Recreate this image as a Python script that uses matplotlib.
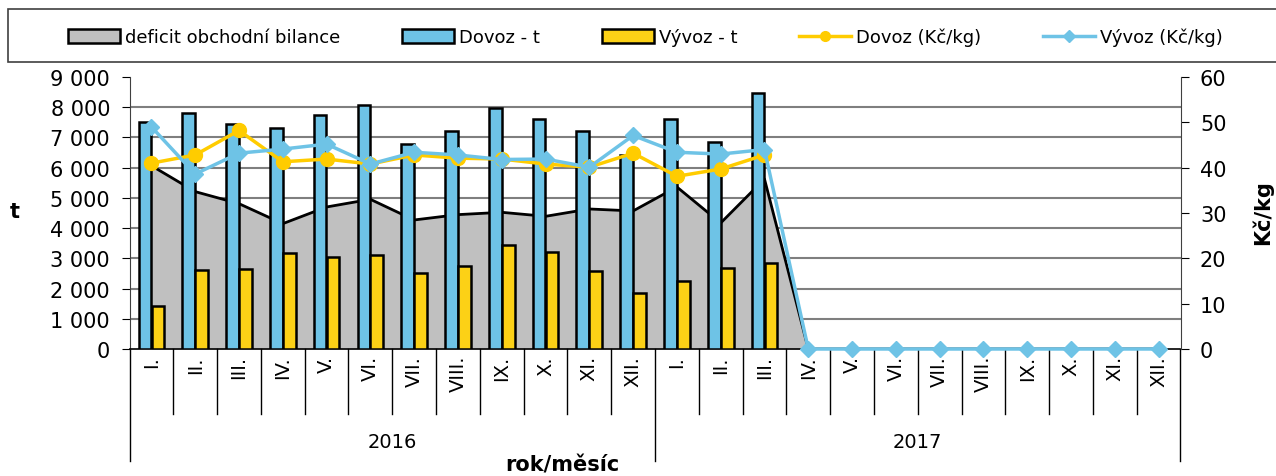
import numpy as np
import matplotlib
matplotlib.use("Agg")
import matplotlib.pyplot as plt
from matplotlib.patches import Patch, Rectangle
from matplotlib.lines import Line2D
import matplotlib.transforms as mtransforms

plt.rcParams['font.family'] = ['DejaVu Sans']

# data
months = ["I.", "II.", "III.", "IV.", "V.", "VI.", "VII.", "VIII.", "IX.", "X.", "XI.", "XII.",
          "I.", "II.", "III.", "IV.", "V.", "VI.", "VII.", "VIII.", "IX.", "X.", "XI.", "XII."]
years = ["2016", "2017"]
nan = np.nan
dovoz_t = [7500, 7810, 7445, 7323, 7743, 8063, 6773, 7203, 7975, 7600, 7203, 6410,
           7600, 6860, 8460, nan, nan, nan, nan, nan, nan, nan, nan, nan]
vyvoz_t = [1434, 2603, 2636, 3176, 3044, 3110, 2504, 2757, 3452, 3210, 2570, 1842,
           2239, 2691, 2835, nan, nan, nan, nan, nan, nan, nan, nan, nan]
deficit = [6066, 5207, 4809, 4147, 4699, 4953, 4269, 4446, 4523, 4390, 4633, 4568,
           5361, 4169, 5625, 0, 0, 0, 0, 0, 0, 0, 0, 0]
dovoz_kg = [41.0, 42.8, 48.2, 41.3, 41.9, 40.8, 42.8, 42.1, 41.9, 40.8, 40.1, 43.2,
            38.1, 39.7, 42.8, nan, nan, nan, nan, nan, nan, nan, nan, nan]
vyvoz_kg = [49.0, 38.6, 43.2, 44.1, 45.2, 40.8, 43.4, 42.8, 41.8, 41.9, 40.1, 47.1,
            43.4, 43.0, 44.0, 0, 0, 0, 0, 0, 0, 0, 0, 0]

c_grey = '#C0C0C0'
c_blue = '#6EC3E6'
c_yel = '#FCD116'

fig = plt.figure(figsize=(12.76, 4.77), dpi=100)
ax = fig.add_axes([129.5 / 1276, 1 - 350 / 477, 1051 / 1276, 272 / 477])
ax2 = ax.twinx()

x = np.arange(len(months))
ax.fill_between(x, deficit, 0, color=c_grey, zorder=1, linewidth=0)
ax.plot(x, deficit, color='black', linewidth=2, zorder=2)
ax.bar(x - 0.148, dovoz_t, width=0.29, color=c_blue, edgecolor='black', linewidth=1.8, zorder=3)
ax.bar(x + 0.148, vyvoz_t, width=0.29, color=c_yel, edgecolor='black', linewidth=1.8, zorder=3)

ax.set_xlim(-0.5, 23.5)
ax.set_ylim(0, 9000)
ax.set_yticks(np.arange(0, 9001, 1000))
ax.set_yticklabels([f"{v:,}".replace(",", " ") for v in range(0, 9001, 1000)])
for v in range(1000, 9000, 1000):
    ax.axhline(v, color='#7f7f7f', linewidth=1.5, zorder=0)
ax.tick_params(axis='y', direction='out', length=6, labelsize=15, pad=8)
ax.set_xticks([])
for s in ['top', 'right']:
    ax.spines[s].set_visible(False)
ax.spines['left'].set_color('#404040')
ax.spines['bottom'].set_color('black')
ax.spines['bottom'].set_linewidth(1.2)

ax2.plot(x, dovoz_kg, color='#FFCC00', linewidth=2.5, marker='o', markersize=10, zorder=4,
         clip_on=False)
ax2.plot(x, vyvoz_kg, color=c_blue, linewidth=2.5, marker='D', markersize=8.5, zorder=5,
         clip_on=False)
ax2.set_ylim(0, 60)
ax2.set_yticks(np.arange(0, 61, 10))
ax2.tick_params(axis='y', direction='out', length=6, labelsize=15, pad=8)
for s in ['top', 'left', 'bottom']:
    ax2.spines[s].set_visible(False)
ax2.spines['right'].set_color('#404040')
ax.set_zorder(1)
ax2.set_zorder(2)
ax.patch.set_visible(False)

# two-level category axis
trans = mtransforms.blended_transform_factory(ax.transData, ax.transAxes)
short = -65 / 272
long_ = -112 / 272
for k in range(len(months) + 1):
    pos = k - 0.5
    y1 = long_ if k % 12 == 0 else short
    ax.plot([pos, pos], [0, y1], color='black', linewidth=1, transform=trans, clip_on=False)
for i, m in enumerate(months):
    ax.text(i, -6 / 272, m, rotation=90, ha='center', va='top', fontsize=14, transform=trans)
for j, yr in enumerate(years):
    ax.text(5.5 + 12 * j, -93 / 272, yr, ha='center', va='center', fontsize=14, transform=trans)

fig.text(562 / 1276, 1 - 466 / 477, "rok/měsíc", ha='center', va='center', fontsize=15, fontweight='bold')
fig.text(15 / 1276, 1 - 212 / 477, "t", ha='center', va='center', fontsize=15, fontweight='bold')
fig.text(1262 / 1276, 1 - 213 / 477, "Kč/kg", ha='center', va='center', fontsize=15,
         fontweight='bold', rotation=90)

# legend
fig.patches.append(Rectangle((8 / 1276, 1 - 63 / 477), 1.02, 53 / 477, transform=fig.transFigure,
                             facecolor='white', edgecolor='#404040', linewidth=1.2))
handles = [Patch(facecolor=c_grey, edgecolor='black', linewidth=1.8),
           Patch(facecolor=c_blue, edgecolor='black', linewidth=1.8),
           Patch(facecolor=c_yel, edgecolor='black', linewidth=1.8),
           Line2D([], [], color='#FFCC00', linewidth=2.5, marker='o', markersize=7),
           Line2D([], [], color=c_blue, linewidth=2.5, marker='D', markersize=6)]
labels = ["deficit obchodní bilance", "Dovoz - t", "Vývoz - t", "Dovoz (Kč/kg)", "Vývoz (Kč/kg)"]
fig.legend(handles, labels, loc='center left', bbox_to_anchor=(59 / 1276, 1 - 38 / 477), ncol=5,
           frameon=False, fontsize=13, handlelength=2.88, handleheight=0.75, handletextpad=0.3,
           columnspacing=3.4, borderpad=0)

fig.savefig("out.png", dpi=100)
